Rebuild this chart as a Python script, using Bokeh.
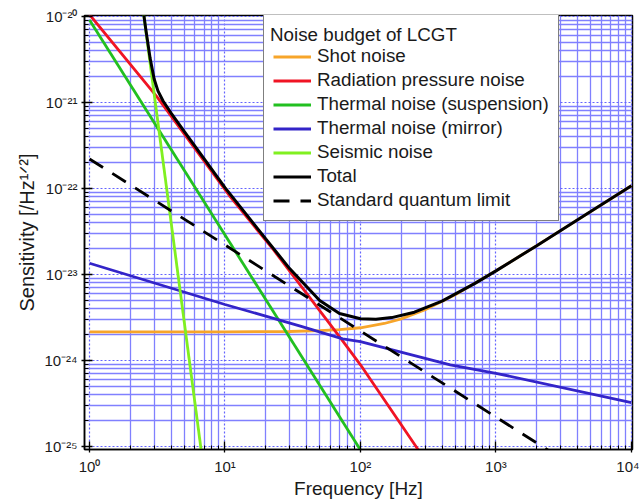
import math
from bokeh.plotting import figure
from bokeh.models import (Range1d, FixedTicker, CustomJSTickFormatter, Legend,
                          LegendItem)
from bokeh.embed import file_html
from bokeh.resources import INLINE

# ---------------- data ----------------
shot_f = [1, 10, 30, 50, 70, 100, 150, 200, 300, 500, 1000, 2000, 5000, 10000]
shot_h = [2.15e-24, 2.15e-24, 2.17e-24, 2.22e-24, 2.28e-24, 2.40e-24, 2.69e-24,
          3.04e-24, 3.88e-24, 5.79e-24, 1.10e-23, 2.16e-23, 5.38e-23, 1.075e-22]

rad_f = [1, 3.16, 11, 23, 72, 100, 257, 400]
rad_h = [1.05e-20, 1.15e-21, 7.9e-23, 1.9e-23, 1.78e-24, 8.9e-25, 1.0e-25, 3.5e-26]

susp_f = [1, 120]
susp_h = [9.1e-21, 5.78e-26]

mirror_f = [1, 10, 36, 74, 100, 460, 1000, 10000]
mirror_h = [1.35e-23, 4.47e-24, 2.51e-24, 1.78e-24, 1.66e-24, 8.9e-25, 7.1e-25, 3.24e-25]

seis_f = [2.45, 7.0]
seis_h = [1.41e-20, 5.1e-26]

total_f = [2.45, 2.6, 2.8, 3.0, 3.2, 3.5, 4, 5, 7, 10, 20, 30, 50, 70, 100, 130,
           170, 250, 400, 700, 1000, 2000, 5000, 10000]
total_h = [1.43e-20, 7.15e-21, 3.27e-21, 1.87e-21, 1.36e-21, 1.03e-21, 7.52e-22,
           4.6e-22, 2.22e-22, 1.02e-22, 2.59e-23, 1.17e-23, 4.97e-24, 3.51e-24,
           3.05e-24, 3.01e-24, 3.15e-24, 3.64e-24, 4.90e-24, 7.87e-24, 1.10e-23,
           2.16e-23, 5.38e-23, 1.075e-22]

sql_f = [1, 3000]
sql_h = [2.2e-22, 7.33e-26]

x_ticks = [1, 10, 100, 1000, 10000]
x_tick_labels = ["10\u2070", "10\u00b9", "10\u00b2", "10\u00b3", "10\u2074"]
y_ticks = [1e-25, 1e-24, 1e-23, 1e-22, 1e-21, 1e-20]
y_tick_labels = ["10\u207b\u00b2\u2075", "10\u207b\u00b2\u2074", "10\u207b\u00b2\u00b3",
                 "10\u207b\u00b2\u00b2", "10\u207b\u00b2\u00b9", "10\u207b\u00b2\u2070"]

series_names = ["Shot noise", "Radiation pressure noise", "Thermal noise (suspension)",
                "Thermal noise (mirror)", "Seismic noise", "Total", "Standard quantum limit"]
legend_title = "Noise budget of LCGT"
x_title = "Frequency [Hz]"
y_title = "Sensitivity [/Hz\u00b9\u141f\u00b2]"

FONT = "Liberation Sans"
TXT = "#1a1a1a"

p = figure(width=639, height=504, x_axis_type="log", y_axis_type="log",
           x_range=Range1d(10 ** -0.037, 10 ** 4.008),
           y_range=Range1d(10 ** -25.035, 10 ** -19.99),
           output_backend="svg", toolbar_location=None,
           min_border_left=84, min_border_right=7, min_border_top=15, min_border_bottom=55)

x_minor = [k * 10 ** d for d in range(0, 4) for k in range(2, 10)]
y_minor = [k * 10.0 ** d for d in range(-25, -20) for k in range(2, 10)]
xt = FixedTicker(ticks=x_ticks, minor_ticks=x_minor)
yt = FixedTicker(ticks=y_ticks, minor_ticks=y_minor)
p.xaxis.ticker = xt
p.yaxis.ticker = yt
p.xgrid.ticker = xt
p.ygrid.ticker = yt

fmt_code = """
let best = 0, d = Infinity;
for (let i = 0; i < t.length; i++) {
  const dd = Math.abs(Math.log10(tick) - Math.log10(t[i]));
  if (dd < d) { d = dd; best = i; }
}
return l[best];
"""
p.xaxis.formatter = CustomJSTickFormatter(args=dict(t=x_ticks, l=x_tick_labels), code=fmt_code)
p.yaxis.formatter = CustomJSTickFormatter(args=dict(t=y_ticks, l=y_tick_labels), code=fmt_code)

for ax in (p.xaxis, p.yaxis):
    ax.major_label_text_font = FONT
    ax.major_label_text_font_size = "15px"
    ax.major_label_text_color = TXT
    ax.axis_line_color = "black"
    ax.axis_line_width = 1.5
    ax.major_tick_line_color = "black"
    ax.minor_tick_line_color = "black"
    ax.major_tick_line_width = 1.3
    ax.minor_tick_line_width = 1.0
    ax.major_tick_in = 8
    ax.major_tick_out = 3
    ax.minor_tick_in = 4
    ax.minor_tick_out = 0
    ax.axis_label_text_font = FONT
    ax.axis_label_text_font_style = "normal"
    ax.axis_label_text_color = TXT
p.xaxis.major_label_standoff = 5
p.yaxis.major_label_standoff = 4
p.xaxis.axis_label = x_title
p.xaxis.axis_label_text_font_size = "19px"
p.xaxis.axis_label_standoff = 0
p.yaxis.axis_label = y_title
p.yaxis.axis_label_text_font_size = "20px"
p.yaxis.axis_label_standoff = 3

for g in (p.xgrid, p.ygrid):
    g.grid_line_color = "#6464ff"
    g.grid_line_width = 1.2
    g.grid_line_dash = "2 2"
    g.minor_grid_line_color = "#8080ff"
    g.minor_grid_line_width = 1.3

p.outline_line_color = "black"
p.outline_line_width = 1.5

W = 2.8
r_shot = p.line(shot_f, shot_h, line_color="#f7a52a", line_width=W)
r_rad = p.line(rad_f, rad_h, line_color="#f01424", line_width=W)
r_susp = p.line(susp_f, susp_h, line_color="#22c020", line_width=W)
r_mir = p.line(mirror_f, mirror_h, line_color="#3324c8", line_width=W)
r_seis = p.line(seis_f, seis_h, line_color="#80f020", line_width=W)
r_tot = p.line(total_f, total_h, line_color="black", line_width=W + 0.2)
r_sql = p.line(sql_f, sql_h, line_color="black", line_width=W, line_dash="16 11")
r_blank = p.line([], [], line_alpha=0)   # placeholder row for the legend heading

renderers = [r_shot, r_rad, r_susp, r_mir, r_seis, r_tot, r_sql]

items = [LegendItem(label=" ", renderers=[r_blank])]
items += [LegendItem(label=n, renderers=[r]) for n, r in zip(series_names, renderers)]
legend = Legend(items=items, location=(179, 228))
legend.label_text_font = FONT
legend.label_text_font_size = "18.8px"
legend.label_text_color = TXT
legend.glyph_width = 38
legend.glyph_height = 21
legend.label_height = 21
legend.spacing = 2
legend.padding = 9
legend.label_standoff = 6
legend.margin = 0
legend.border_line_color = "black"
legend.border_line_width = 1.5
legend.background_fill_color = "white"
legend.background_fill_alpha = 1.0
p.add_layout(legend)

# legend heading: a one-row, frameless legend placed over the blank first row
head = Legend(items=[LegendItem(label=legend_title, renderers=[r_blank])], location=(185, 403))
head.label_text_font = FONT
head.label_text_font_size = "18.8px"
head.label_text_color = TXT
head.glyph_width = 1
head.glyph_height = 21
head.label_height = 21
head.label_standoff = 0
head.padding = 0
head.margin = 0
head.border_line_alpha = 0
head.background_fill_alpha = 0
p.add_layout(head)

open("out.html", "w").write(file_html(p, INLINE))
